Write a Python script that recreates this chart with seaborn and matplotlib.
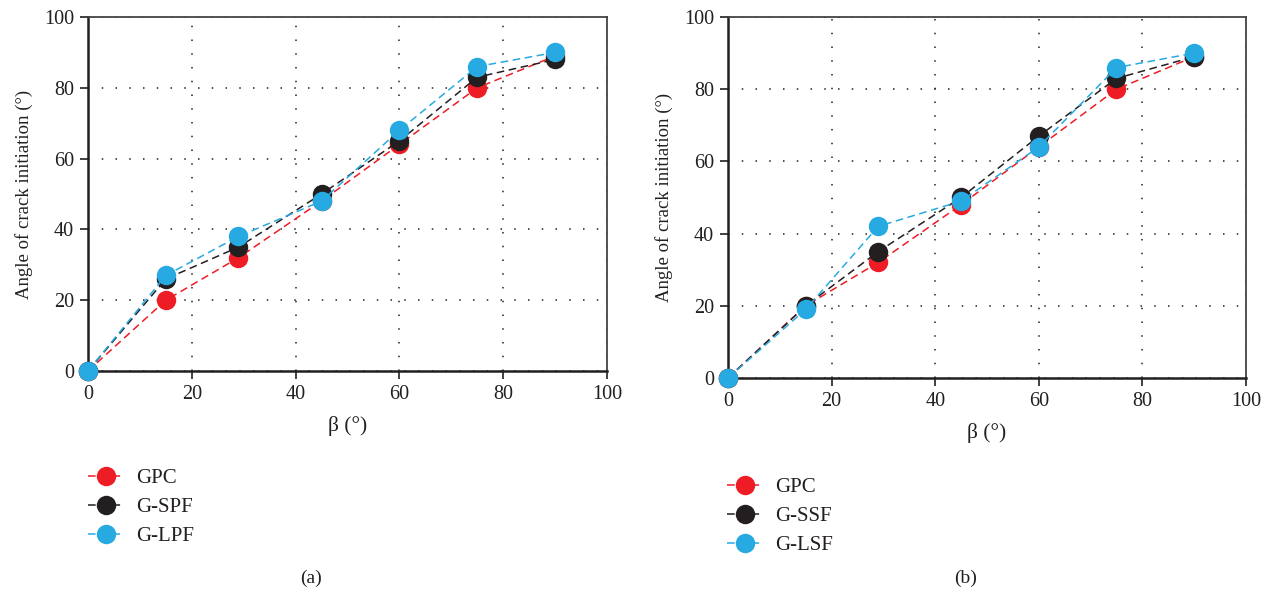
import matplotlib
matplotlib.use("Agg")
import matplotlib.pyplot as plt
import seaborn as sns
import pandas as pd

beta = [0, 15, 29, 45, 60, 75, 90]

# Panel (a)
a_gpc = [0, 20, 32, 48, 64, 80, 89]
a_gspf = [0, 26, 35, 50, 65, 83, 88]
a_glpf = [0, 27, 38, 48, 68, 86, 90]
a_names = ["GPC", "G-SPF", "G-LPF"]

# Panel (b)
b_gpc = [0, 20, 32, 48, 64, 80, 89]
b_gssf = [0, 20, 35, 50, 67, 83, 89]
b_glsf = [0, 19, 42, 49, 64, 86, 90]
b_names = ["GPC", "G-SSF", "G-LSF"]

ticks = [0, 20, 40, 60, 80, 100]
colors = ["#ee1c25", "#231f20", "#27aae1"]

sns.set_theme(style="white")
plt.rcParams["font.family"] = ["Liberation Serif", "DejaVu Serif"]

fig = plt.figure(figsize=(12.71, 5.93), dpi=100)
axA = fig.add_axes([0.0692, 0.3744, 0.4084, 0.5969])
axB = fig.add_axes([0.5728, 0.3626, 0.4075, 0.6087])


def draw(ax, series, names, legend_anchor, caption_x, caption):
    df = pd.DataFrame({"beta": beta * 3,
                       "angle": series[0] + series[1] + series[2],
                       "name": [n for n in names for _ in beta]})
    for name, col in zip(names, colors):
        sub = df[df["name"] == name]
        sns.lineplot(data=sub, x="beta", y="angle", ax=ax, color=col,
                     marker="o", markersize=14, markeredgewidth=0,
                     linestyle=(0, (5, 3)), linewidth=1.1, label=name,
                     legend=False, clip_on=False, zorder=3)
    ax.set_xlim(0, 100)
    ax.set_ylim(0, 100)
    ax.set_xticks(ticks)
    ax.set_yticks(ticks)
    ax.tick_params(axis="both", labelsize=14.5, colors="#231f20", direction="out",
                   length=6, width=1.2, left=True, bottom=True, pad=4)
    ax.grid(True, linestyle=(0, (1, 8)), color="#222222", linewidth=1.1)
    ax.set_axisbelow(True)
    for s in ["left", "bottom"]:
        ax.spines[s].set_linewidth(1.8)
        ax.spines[s].set_color("#231f20")
    for s in ["top", "right"]:
        ax.spines[s].set_linewidth(1.3)
        ax.spines[s].set_color("#444444")
    for s in ax.spines.values():
        s.set_visible(True)
    ax.set_xlabel("β (°)", fontsize=15.5, color="#231f20", labelpad=9)
    ax.set_ylabel("Angle of crack initiation (°)", fontsize=13.5, color="#231f20", labelpad=8)
    handles, labels = ax.get_legend_handles_labels()
    fig.legend(handles, labels, loc="upper left", bbox_to_anchor=legend_anchor,
               frameon=False, fontsize=15, handlelength=1.7, handletextpad=0.6,
               labelspacing=0.45, labelcolor="#231f20")
    fig.text(caption_x, 1 - 578 / 593, caption,
             ha="center", va="center", fontsize=14, color="#231f20")


draw(axA, [a_gpc, a_gspf, a_glpf], a_names, (0.0545, 1 - 450 / 593), 311 / 1271, "(a)")
draw(axB, [b_gpc, b_gssf, b_glsf], b_names, (0.5572, 1 - 459 / 593), 966 / 1271, "(b)")

fig.savefig("out.png", dpi=100)
